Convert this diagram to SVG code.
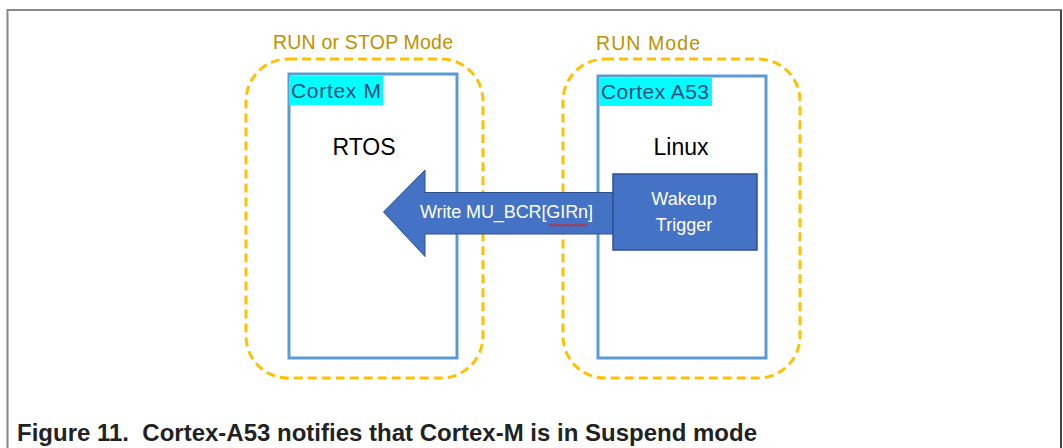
<svg xmlns="http://www.w3.org/2000/svg" width="1063" height="448" viewBox="0 0 1063 448">
<style>
.mode{fill:none;stroke:#FFC000;stroke-width:3;stroke-dasharray:9 5}
.mlabel{font-family:"Liberation Sans",Arial,sans-serif;font-size:19.5px;fill:#BF9000}
.core{fill:#fff;stroke:#5B9BD5;stroke-width:3}
.hl{fill:#00FFFF}
.clabel{font-family:"Liberation Sans",Arial,sans-serif;font-size:21px;fill:#1F4E79}
.os{font-family:"Liberation Sans",Arial,sans-serif;font-size:23px;fill:#000;text-anchor:middle}
.wt{font-family:"Liberation Sans",Arial,sans-serif;font-size:18px;fill:#fff}
.cap{font-family:"Liberation Sans",Arial,sans-serif;font-size:23px;font-weight:bold;fill:#222;white-space:pre}
</style>
<rect x="0" y="0" width="1063" height="448" fill="#fff"/>
<path d="M7.5 448 V10 H1061 V448" fill="none" stroke="#888" stroke-width="2"/>
<line x1="1061" y1="10" x2="1061" y2="448" stroke="#444" stroke-width="2"/>

<g id="mode-run-stop">
<rect class="mode" x="246" y="59" width="237" height="319" rx="42"/>
<text class="mlabel" x="273" y="49" textLength="180">RUN or STOP Mode</text>
</g>
<g id="mode-run">
<rect class="mode" x="563" y="59" width="237" height="319" rx="42"/>
<text class="mlabel" x="596" y="50" textLength="104">RUN Mode</text>
</g>

<g id="cortex-m">
<rect class="core" x="289" y="74" width="168" height="284"/>
<rect class="hl" x="289" y="76" width="94" height="29"/>
<text class="clabel" x="291" y="98" textLength="90">Cortex M</text>
<text class="os" x="364" y="155">RTOS</text>
</g>
<g id="cortex-a53">
<rect class="core" x="598" y="76" width="168" height="282"/>
<rect class="hl" x="599" y="78" width="113" height="28"/>
<text class="clabel" x="601" y="99" textLength="108">Cortex A53</text>
<text class="os" x="681" y="155">Linux</text>
</g>

<g id="connectors">
<path d="M383.5 212 L425 170 V192.5 H613 V234 H425 V256.5 Z" fill="#4472C4" stroke="#2F528F" stroke-width="1"/>
<text class="wt" x="420" y="218" textLength="173">Write MU_BCR[GIRn]</text>
<path d="M549 226 l2 -1.5 2 1.5 2 -1.5 2 1.5 2 -1.5 2 1.5 2 -1.5 2 1.5 2 -1.5 2 1.5 2 -1.5 2 1.5 2 -1.5 2 1.5 2 -1.5 2 1.5 2 -1.5 2 1.5 2 -1.5" fill="none" stroke="#E02020" stroke-width="1.3"/>
</g>

<g id="wakeup-trigger">
<rect x="613" y="174" width="144" height="76" fill="#4472C4" stroke="#2F528F" stroke-width="1.5"/>
<text class="wt" x="684" y="205" text-anchor="middle" font-size="20">Wakeup</text>
<text class="wt" x="684" y="231" text-anchor="middle" font-size="20">Trigger</text>
</g>

<text class="cap" x="17" y="441" textLength="740" lengthAdjust="spacingAndGlyphs">Figure 11.  Cortex-A53 notifies that Cortex-M is in Suspend mode</text>
</svg>
